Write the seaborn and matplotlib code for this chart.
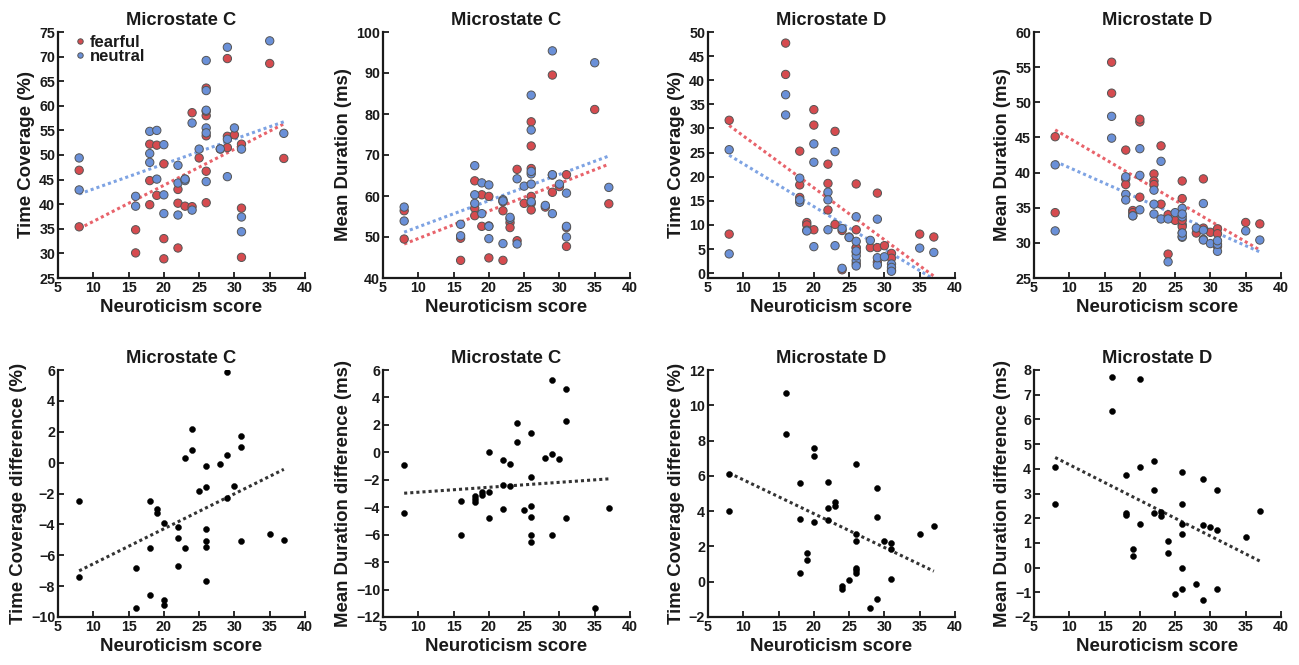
import numpy as np
import pandas as pd
import matplotlib
matplotlib.use("Agg")
import matplotlib.pyplot as plt
import seaborn as sns

sns.set_theme(style="ticks")
plt.rcParams['font.family'] = ['Liberation Sans', 'DejaVu Sans']
plt.rcParams['font.weight'] = 'bold'

# neuroticism score of each subject (shared by all panels)
neuro = [8, 8, 16, 16, 18, 18, 18, 19, 19, 20, 20, 20, 22, 22, 22, 23, 23, 24, 24, 25,
         26, 26, 26, 26, 26, 26, 28, 29, 29, 29, 30, 31, 31, 31, 35, 37]

# microstate C, time coverage (%)
tc_c_fear = [46.9, 35.4, 34.8, 30.1, 52.2, 44.8, 39.9, 52.0, 41.8, 48.2, 33.0, 28.9,
             43.0, 40.2, 31.1, 45.1, 39.6, 58.6, 39.5, 49.4, 63.6, 58.0, 58.9, 53.9, 46.7, 40.3,
             51.2, 51.5, 53.8, 69.6, 54.1, 39.2, 52.2, 29.2, 68.6, 49.3]
tc_c_neut = [49.4, 42.9, 41.6, 39.6, 54.8, 50.3, 48.5, 55.0, 45.1, 52.1, 41.9, 38.1,
             47.9, 44.3, 37.8, 44.8, 45.1, 56.5, 38.8, 51.2, 69.2, 63.1, 59.1, 55.5, 54.5, 44.6,
             51.25, 45.6, 53.2, 71.9, 55.5, 37.4, 51.2, 34.4, 73.2, 54.4]
# microstate C, mean duration (ms)
md_c_fear = [56.4, 49.5, 49.7, 44.3, 63.7, 57.0, 55.2, 60.3, 52.6, 59.9, 52.7, 44.9,
             58.6, 56.4, 44.3, 53.5, 52.3, 66.5, 49.1, 58.2, 78.1, 72.2, 66.7, 59.9, 58.2, 56.6,
             57.3, 89.5, 60.9, 65.1, 62.3, 65.2, 52.3, 47.7, 81.1, 58.1]
md_c_neut = [57.3, 53.9, 53.1, 50.3, 67.4, 60.3, 58.2, 63.2, 55.7, 62.7, 52.6, 49.6,
             59.1, 58.8, 48.4, 54.4, 54.8, 64.2, 48.3, 62.4, 84.6, 76.1, 65.4, 66.0, 62.9, 58.6,
             57.7, 95.4, 55.7, 65.2, 62.9, 60.7, 50.0, 52.6, 92.5, 62.1]
# microstate D, time coverage (%)
tc_d_fear = [31.7, 8.1, 47.7, 41.2, 25.3, 18.3, 15.7, 10.5, 10.0, 33.9, 30.7, 9.0,
             22.6, 18.6, 13.1, 29.4, 10.1, 8.85, 0.7, 7.5, 18.5, 9.0, 5.3, 4.35, 5.25, 1.97,
             5.3, 16.6, 5.3, 2.3, 5.7, 4.1, 3.1, 0.6, 8.1, 7.5]
tc_d_neut = [25.6, 4.0, 37.0, 32.8, 19.7, 14.7, 15.2, 8.9, 8.75, 26.8, 23.0, 5.5,
             16.8, 15.2, 9.0, 25.2, 5.7, 9.25, 1.0, 7.4, 11.7, 6.6, 2.6, 3.6, 4.6, 1.5,
             6.8, 11.2, 1.7, 3.2, 3.4, 1.9, 1.2, 0.4, 5.2, 4.3]
# microstate D, mean duration (ms)
md_d_fear = [45.1, 34.3, 55.7, 51.3, 43.2, 39.1, 38.3, 34.6, 34.3, 47.2, 47.6, 36.5,
             39.8, 38.8, 38.3, 43.8, 35.5, 28.4, 34.0, 33.2, 38.8, 36.3, 32.6, 32.3, 31.4, 33.2,
             31.4, 39.1, 32.1, 30.5, 31.5, 32.0, 31.3, 29.5, 32.9, 32.7]
md_d_neut = [41.1, 31.7, 48.0, 44.9, 39.4, 36.9, 36.1, 33.85, 33.85, 39.6, 43.4, 34.7,
             35.5, 34.1, 37.5, 41.6, 33.4, 27.3, 33.4, 34.3, 34.9, 33.7, 30.8, 30.9, 31.4, 34.1,
             32.1, 35.6, 30.4, 31.8, 29.9, 28.8, 29.8, 30.3, 31.7, 30.4]

# differences fearful - neutral (bottom row)
tc_c_diff = [-2.5, -7.4, -6.8, -9.4, -2.5, -5.5, -8.6, -3.0, -3.25, -3.9, -8.9, -9.25,
             -4.9, -4.15, -6.7, 0.3, -5.55, 2.15, 0.8, -1.85, -5.45, -5.1, -0.2, -1.55, -7.7, -4.3,
             -0.1, 5.9, 0.5, -2.3, -1.5, 1.75, 1.0, -5.1, -4.6, -5.0]
md_c_diff = [-0.95, -4.45, -3.55, -6.0, -3.65, -3.4, -3.2, -2.9, -3.1, -2.9, 0.05, -4.75,
             -0.55, -2.4, -4.1, -0.85, -2.45, 2.15, 0.75, -4.2, -6.5, -3.9, 1.4, -6.0, -4.7, -1.8,
             -0.4, -6.0, 5.25, -0.1, -0.45, 4.6, 2.3, -4.8, -11.35, -4.05]
tc_d_diff = [6.1, 4.0, 10.7, 8.35, 5.6, 3.55, 0.5, 1.6, 1.25, 7.1, 7.6, 3.4,
             5.65, 3.5, 4.15, 4.3, 4.5, -0.4, -0.25, 0.08, 6.7, 2.32, 2.68, 0.75, 0.65, 0.47,
             -1.47, 5.3, 3.65, -0.98, 2.3, 2.2, 1.87, 0.17, 2.72, 3.17]
md_d_diff = [4.07, 2.57, 7.73, 6.34, 3.74, 2.2, 2.11, 0.76, 0.45, 7.62, 4.09, 1.75,
             4.33, 3.16, 2.22, 2.26, 2.07, 1.09, 0.6, -1.07, 3.86, 2.57, 1.77, 1.38, 0.0, -0.88,
             -0.68, 3.57, 1.72, -1.32, 1.64, 3.16, 1.52, -0.86, 1.22, 2.3]

top_panels = [
    ("Microstate C", "Time Coverage (%)", tc_c_fear, tc_c_neut, (25, 75), 5),
    ("Microstate C", "Mean Duration (ms)", md_c_fear, md_c_neut, (40, 100), 10),
    ("Microstate D", "Time Coverage (%)", tc_d_fear, tc_d_neut, (-1, 50), 5),
    ("Microstate D", "Mean Duration (ms)", md_d_fear, md_d_neut, (25, 60), 5),
]
bottom_panels = [
    ("Microstate C", "Time Coverage difference (%)", tc_c_diff, (-10, 6), 2),
    ("Microstate C", "Mean Duration difference (ms)", md_c_diff, (-12, 6), 2),
    ("Microstate D", "Time Coverage difference (%)", tc_d_diff, (-2, 12), 2),
    ("Microstate D", "Mean Duration difference (ms)", md_d_diff, (-2, 8), 1),
]

red = "#d64b4f"
blue = "#6a90d8"
txt = "#1a1a1a"
dots = (0, (1, 1))

W, H = 1299, 665
fig = plt.figure(figsize=(W / 100, H / 100), dpi=100)
lefts = [58, 383, 708, 1034]


def style_ax(ax, title, ylabel, ylim, ystep):
    ax.set_xlim(5, 40)
    ax.set_ylim(*ylim)
    ax.set_xticks(np.arange(5, 41, 5))
    start = int(np.ceil(ylim[0] / ystep) * ystep)
    ax.set_yticks(np.arange(start, ylim[1] + 0.01, ystep))
    sns.despine(ax=ax)
    for s in ["left", "bottom"]:
        ax.spines[s].set_linewidth(1.6)
        ax.spines[s].set_color(txt)
    ax.tick_params(direction="in", length=4, width=1.3, labelsize=10.3, colors=txt, pad=2)
    for lab in ax.get_xticklabels() + ax.get_yticklabels():
        lab.set_fontweight("bold")
    ax.set_title(title, fontsize=13.2, fontweight="bold", color=txt, pad=5)
    ax.set_xlabel("Neuroticism score", fontsize=13.4, fontweight="bold", color=txt, labelpad=3)
    ax.set_ylabel(ylabel, fontsize=13.4, fontweight="bold", color=txt, labelpad=3)


for i, (title, ylabel, fear, neut, ylim, ystep) in enumerate(top_panels):
    ax = fig.add_axes([lefts[i] / W, 1 - 278 / H, 247 / W, 246 / H])
    df = pd.DataFrame({
        "score": neuro + neuro,
        "value": fear + neut,
        "cond": ["fearful"] * len(fear) + ["neutral"] * len(neut),
    })
    sns.scatterplot(data=df, x="score", y="value", hue="cond", hue_order=["fearful", "neutral"],
                    palette=[red, blue], s=36, edgecolor="#555555", linewidth=0.7, ax=ax,
                    legend=(i == 0), zorder=3)
    sns.regplot(x=neuro, y=fear, scatter=False, ci=None, color="#e8636b", ax=ax,
                line_kws=dict(ls=dots, lw=2.2, zorder=2))
    sns.regplot(x=neuro, y=neut, scatter=False, ci=None, color="#7ea3e3", ax=ax,
                line_kws=dict(ls=dots, lw=2.2, zorder=2))
    style_ax(ax, title, ylabel, ylim, ystep)
    if i == 0:
        ax.legend(loc="upper left", bbox_to_anchor=(0.03, 1.015), frameon=False,
                  prop=dict(size=12, weight="bold"), markerscale=0.65, handletextpad=0.05,
                  labelspacing=-0.05, borderaxespad=0, handlelength=1.0, labelcolor=txt)

for i, (title, ylabel, diff, ylim, ystep) in enumerate(bottom_panels):
    ax = fig.add_axes([lefts[i] / W, 1 - 617 / H, 247 / W, 247 / H])
    sns.scatterplot(x=neuro, y=diff, color="black", s=19, edgecolor="black", linewidth=0.3,
                    ax=ax, zorder=3)
    sns.regplot(x=neuro, y=diff, scatter=False, ci=None, color="#333333", ax=ax,
                line_kws=dict(ls=dots, lw=2.2, zorder=2))
    style_ax(ax, title, ylabel, ylim, ystep)

fig.savefig("out.png", dpi=100)
